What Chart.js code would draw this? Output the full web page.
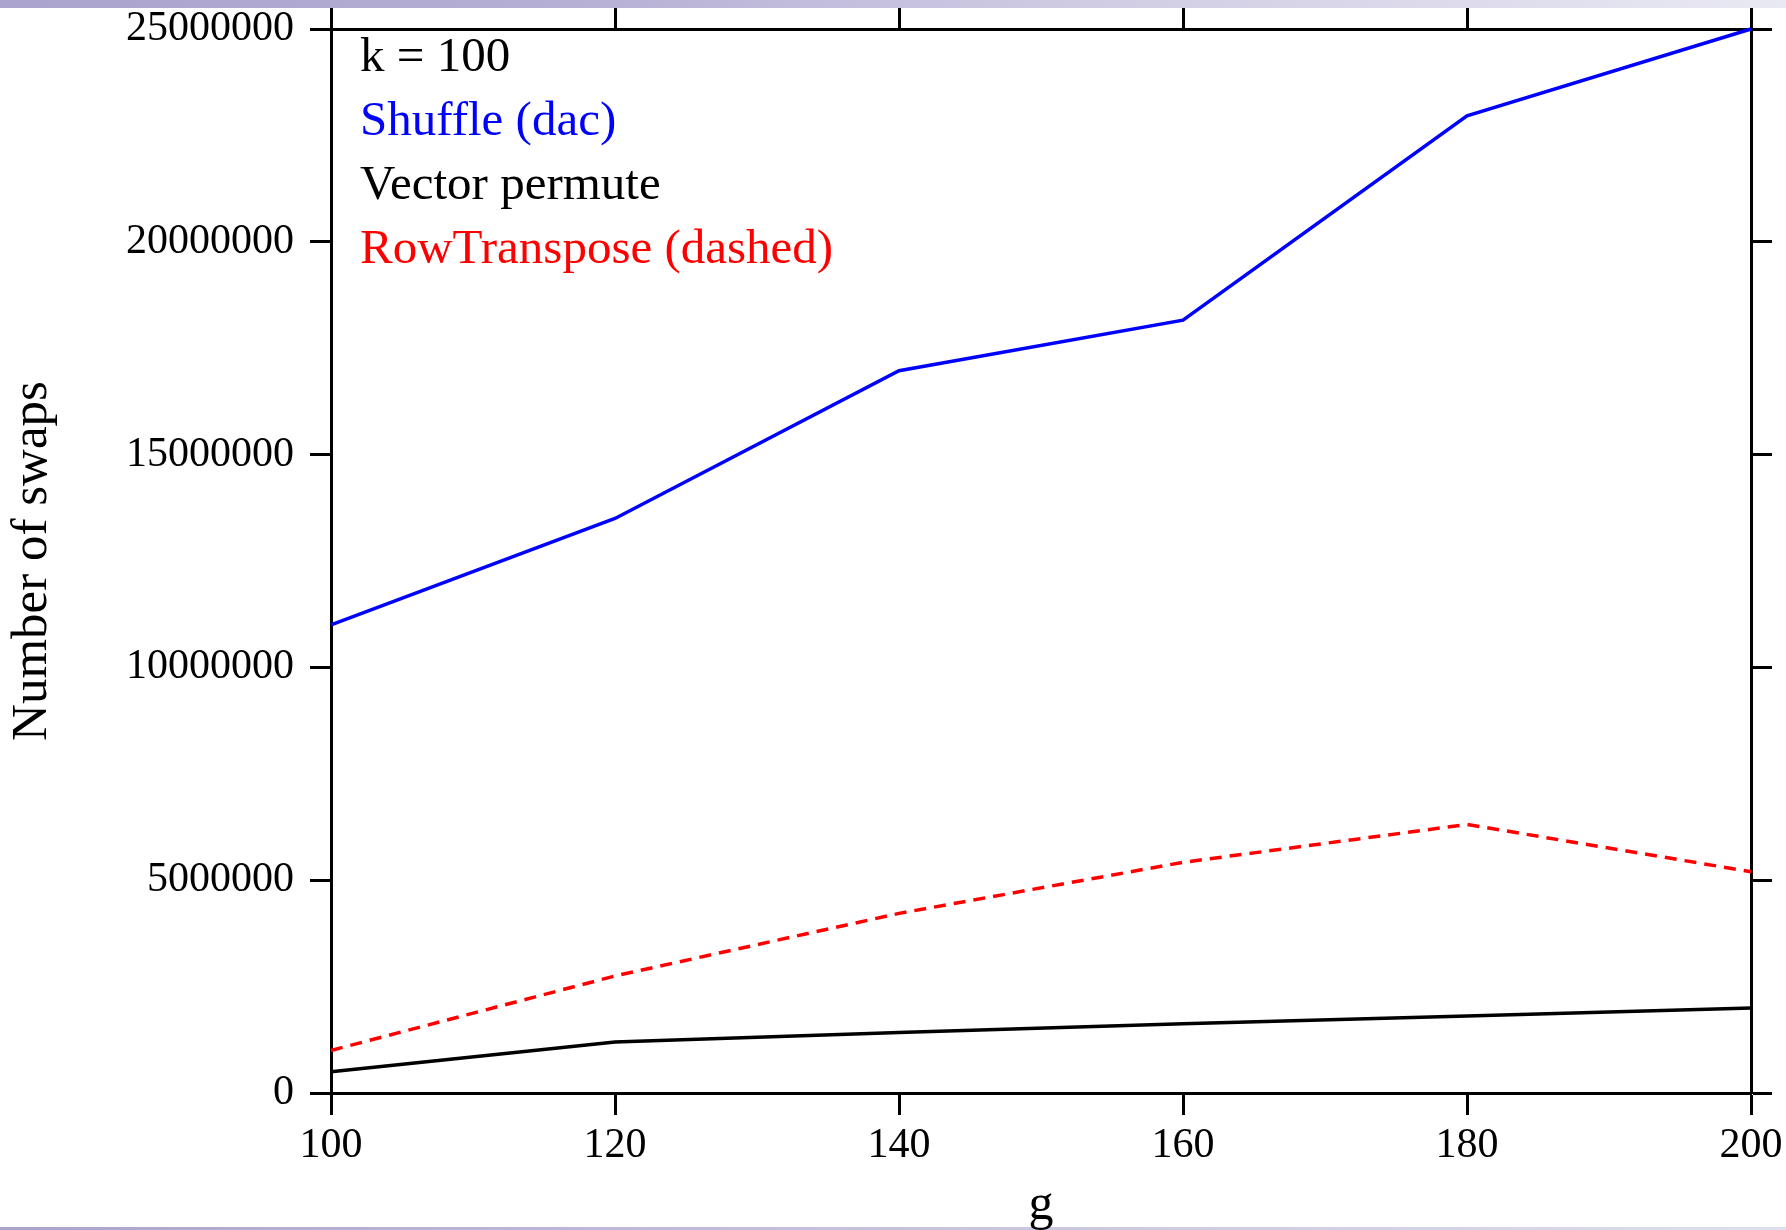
<!DOCTYPE html>
<html>
<head>
<meta charset="utf-8">
<script src="https://cdn.jsdelivr.net/npm/chart.js@4.4.1/dist/chart.umd.min.js"></script>
<style>
  html, body { margin: 0; padding: 0; background: #ffffff; }
  #wrap { width: 1786px; height: 1230px; position: relative; }
  canvas { display: block; }
</style>
</head>
<body>
<div id="wrap"><canvas id="c" width="1786" height="1230"></canvas></div>
<script>
// ---- data ----
const gValues = [100, 120, 140, 160, 180, 200];
const shuffleDac = [11000000, 13500000, 16970000, 18160000, 22960000, 25000000];
const vectorPermute = [500000, 1200000, 1420000, 1630000, 1810000, 2000000];
const rowTranspose = [1000000, 2750000, 4220000, 5420000, 6310000, 5200000];
const yTickValues = [0, 5000000, 10000000, 15000000, 20000000, 25000000];
const xTickValues = [100, 120, 140, 160, 180, 200];
const annotationLines = ["k = 100", "Shuffle (dac)", "Vector permute", "RowTranspose (dashed)"];
const annotationColors = ["#000000", "#0000ff", "#000000", "#ff0000"];
const xTitle = "g";
const yTitle = "Number of swaps";

const FONT = "'Liberation Serif', 'Times New Roman', serif";

function toPoints(vals) { return gValues.map((g, i) => ({ x: g, y: vals[i] })); }
function setTicks(values) { return (scale) => { scale.ticks = values.map(v => ({ value: v })); }; }
function noPad(s) { s.paddingTop = 0; s.paddingBottom = 0; s.paddingLeft = 0; s.paddingRight = 0; }

const bandPlugin = {
  id: 'bands',
  beforeDraw(chart) {
    const ctx = chart.ctx;
    const w = chart.width, h = chart.height;
    ctx.save();
    ctx.fillStyle = '#ffffff';
    ctx.fillRect(0, 0, w, h);
    let g = ctx.createLinearGradient(0, 0, w, 0);
    g.addColorStop(0, '#aaa4ce');
    g.addColorStop(0.3, '#b4aed4');
    g.addColorStop(0.6, '#cfcbe3');
    g.addColorStop(1, '#e9e9f3');
    ctx.fillStyle = g;
    ctx.fillRect(0, 0, w, 8);
    let g2 = ctx.createLinearGradient(0, 0, w, 0);
    g2.addColorStop(0, '#aaa4ce');
    g2.addColorStop(0.5, '#c6c2de');
    g2.addColorStop(1, '#dedeec');
    ctx.fillStyle = g2;
    ctx.fillRect(0, h - 3, w, 3);
    ctx.restore();
  }
};

const annotationPlugin = {
  id: 'annot',
  afterDraw(chart) {
    const ctx = chart.ctx;
    const a = chart.chartArea;
    ctx.save();
    ctx.font = "49px " + FONT;
    ctx.textAlign = 'left';
    ctx.textBaseline = 'alphabetic';
    annotationLines.forEach((t, i) => {
      ctx.fillStyle = annotationColors[i];
      ctx.fillText(t, a.left + 29, a.top + 42 + i * 64);
    });
    ctx.restore();
  }
};

const gridCommon = {
  drawOnChartArea: false,
  drawTicks: true,
  tickColor: '#000000',
  tickWidth: 3,
};
const borderCommon = { display: true, color: '#000000', width: 3 };

new Chart(document.getElementById('c'), {
  type: 'line',
  data: {
    datasets: [
      { label: 'Shuffle (dac)', data: toPoints(shuffleDac), borderColor: '#0000ff', borderWidth: 3.5, pointRadius: 0, tension: 0, clip: false, fill: false },
      { label: 'Vector permute', data: toPoints(vectorPermute), borderColor: '#000000', borderWidth: 3.5, pointRadius: 0, tension: 0, clip: false, fill: false },
      { label: 'RowTranspose (dashed)', data: toPoints(rowTranspose), borderColor: '#ff0000', borderWidth: 3.5, borderDash: [12, 8], pointRadius: 0, tension: 0, clip: false, fill: false }
    ]
  },
  options: {
    responsive: false,
    devicePixelRatio: 1,
    animation: false,
    layout: { padding: 0 },
    plugins: { legend: { display: false }, tooltip: { enabled: false } },
    scales: {
      x: {
        type: 'linear', position: 'bottom', min: 100, max: 200,
        afterBuildTicks: setTicks(xTickValues),
        afterFit: (s) => { s.height = 137; noPad(s); },
        ticks: { color: '#000000', font: { family: FONT, size: 42 }, padding: 6, maxRotation: 0, autoSkip: false, callback: (v) => String(v) },
        grid: Object.assign({}, gridCommon, { tickLength: 22 }),
        border: borderCommon,
        title: { display: true, text: xTitle, color: '#000000', font: { family: FONT, size: 50, lineHeight: 0.95 }, padding: { top: 0, bottom: 0 } }
      },
      x2: {
        type: 'linear', position: 'top', min: 100, max: 200,
        afterBuildTicks: setTicks(xTickValues),
        afterFit: (s) => { s.height = 29; noPad(s); },
        ticks: { display: false },
        grid: Object.assign({}, gridCommon, { tickLength: 21 }),
        border: borderCommon
      },
      y: {
        type: 'linear', position: 'left', min: 0, max: 25000000,
        afterBuildTicks: setTicks(yTickValues),
        afterFit: (s) => { s.width = 331; noPad(s); },
        ticks: { color: '#000000', font: { family: FONT, size: 42 }, padding: 16, autoSkip: false, callback: (v) => String(v) },
        grid: Object.assign({}, gridCommon, { tickLength: 21 }),
        border: borderCommon,
        title: { display: true, text: yTitle, color: '#000000', font: { family: FONT, size: 51, lineHeight: 1.1 }, padding: { top: 5, bottom: 0 } }
      },
      y2: {
        type: 'linear', position: 'right', min: 0, max: 25000000,
        afterBuildTicks: setTicks(yTickValues),
        afterFit: (s) => { s.width = 35; noPad(s); },
        ticks: { display: false },
        grid: Object.assign({}, gridCommon, { tickLength: 21 }),
        border: borderCommon
      }
    }
  },
  plugins: [bandPlugin, annotationPlugin]
});
</script>
</body>
</html>
